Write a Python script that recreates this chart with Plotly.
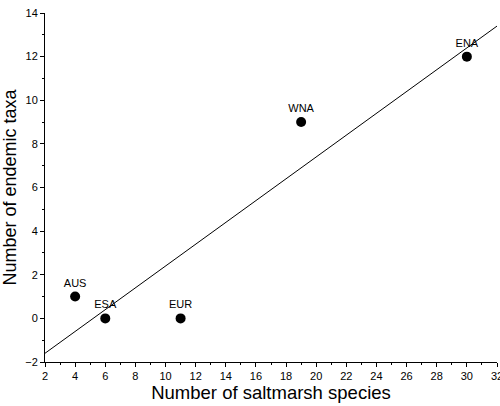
import plotly.graph_objects as go

regions = ["AUS", "ESA", "EUR", "WNA", "ENA"]
saltmarsh_species = [4, 6, 11, 19, 30]
endemic_taxa = [1, 0, 0, 9, 12]
fit_x = [2, 32]
fit_y = [-1.6, 13.4]

font = "Liberation Sans, Arial, sans-serif"

fig = go.Figure()
fig.add_trace(go.Scatter(x=fit_x, y=fit_y, mode="lines",
                         line=dict(color="black", width=1), hoverinfo="skip"))
fig.add_trace(go.Scatter(x=saltmarsh_species, y=endemic_taxa, mode="markers+text",
                         text=regions, textposition="top center",
                         textfont=dict(family=font, size=11, color="black"),
                         marker=dict(color="black", size=10)))

axis_common = dict(showline=True, linecolor="black", linewidth=1, showgrid=False,
                   zeroline=False, ticks="outside", ticklen=4, tickcolor="black",
                   tickfont=dict(family=font, size=11, color="black"),
                   ticklabeloverflow="allow", automargin=False,
                   minor=dict(ticks="outside", ticklen=2, tickcolor="black", dtick=1))

fig.update_xaxes(range=[2, 32], dtick=2, tick0=2,
                 title=dict(text="Number of saltmarsh species",
                            font=dict(family=font, size=18.5, color="black"), standoff=4),
                 **axis_common)
fig.update_yaxes(range=[-2, 14], dtick=2, tick0=0,
                 title=dict(text="Number of endemic taxa",
                            font=dict(family=font, size=18, color="black"), standoff=6),
                 **axis_common)

fig.update_layout(width=500, height=406, showlegend=False,
                  plot_bgcolor="white", paper_bgcolor="white",
                  margin=dict(l=45, r=3, t=13, b=44))
fig.write_html("out.html", config={"displayModeBar": False},
               post_script="document.body.style.margin='0';document.body.style.overflow='hidden';")
